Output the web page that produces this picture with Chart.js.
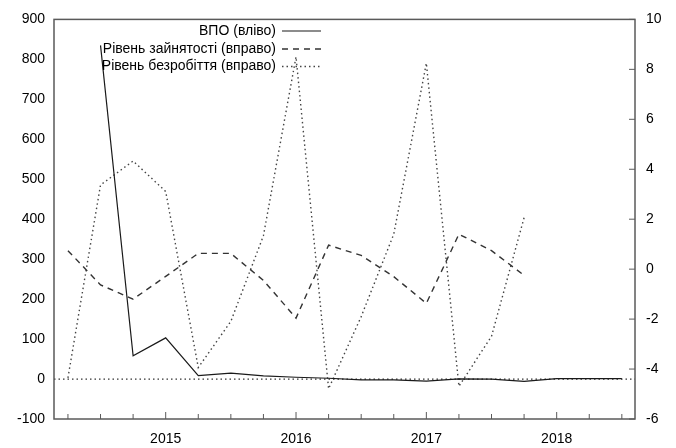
<!DOCTYPE html>
<html>
<head>
<meta charset="utf-8">
<script src="https://cdn.jsdelivr.net/npm/chart.js@4.4.0/dist/chart.umd.min.js"></script>
<style>
  html, body { margin: 0; padding: 0; background: #fff; }
  #wrap { width: 676px; height: 448px; }
</style>
</head>
<body>
<div id="wrap"><canvas id="chart" width="676" height="448"></canvas></div>
<script>
// quarterly periods, 2014 Q2 .. 2018 Q3
const quarters = ['2014 Q2', '2014 Q3', '2014 Q4',
    '2015 Q1', '2015 Q2', '2015 Q3', '2015 Q4',
    '2016 Q1', '2016 Q2', '2016 Q3', '2016 Q4',
    '2017 Q1', '2017 Q2', '2017 Q3', '2017 Q4',
    '2018 Q1', '2018 Q2', '2018 Q3'];

// ВПО (left axis)
const idpValues = [null, 835, 58, 103, 8.6, 15, 8, 4.5, 2, -2, -2, -5, 0.5, 0, -6, 1, 1, 1];
// Рівень зайнятості (right axis)
const employmentValues = [0.74, -0.63, -1.2, -0.29, 0.63, 0.63, -0.45, -1.96, 0.96, 0.55, -0.3, -1.37, 1.4, 0.74, -0.25, null, null, null];
// Рівень безробіття (right axis)
const unemploymentValues = [-4.35, 3.37, 4.33, 3.11, -3.94, -2.09, 1.34, 8.5, -4.79, -1.9, 1.4, 8.25, -4.69, -2.69, 2.06, null, null, null];

const leftTicks = [-100, 0, 100, 200, 300, 400, 500, 600, 700, 800, 900];
const rightTicks = [-6, -4, -2, 0, 2, 4, 6, 8, 10];
const yearLabels = [2015, 2016, 2017, 2018];

const seriesLabels = ['ВПО (вліво)', 'Рівень зайнятості (вправо)', 'Рівень безробіття (вправо)'];

const FONT = '"Liberation Sans", Arial, sans-serif';
const FRAME = '#5a5a5a';

// quarter label -> fractional year (Q1 sits on the year tick)
const quarterPos = quarters.map(q => {
    const [y, n] = q.split(' Q');
    return Number(y) + (Number(n) - 1) / 4;
});
const toPoints = (values) => quarterPos.map((x, i) => ({ x, y: values[i] }));

const gnuplotLook = {
    id: 'gnuplotLook',
    beforeDatasetsDraw(chart) {
        // dotted zero axis of the left scale
        const { ctx, chartArea } = chart;
        const y0 = chart.scales.yLeft.getPixelForValue(0);
        ctx.save();
        ctx.strokeStyle = '#333';
        ctx.lineWidth = 1.3;
        ctx.setLineDash([1.5, 3]);
        ctx.beginPath();
        ctx.moveTo(chartArea.left, y0);
        ctx.lineTo(chartArea.right, y0);
        ctx.stroke();
        ctx.restore();
    },
    afterDraw(chart) {
        const { ctx, chartArea } = chart;
        const x = chart.scales.x;
        const yR = chart.scales.yRight;
        ctx.save();
        // frame
        ctx.strokeStyle = FRAME;
        ctx.lineWidth = 1.5;
        ctx.setLineDash([]);
        ctx.strokeRect(chartArea.left, chartArea.top, chartArea.right - chartArea.left, chartArea.bottom - chartArea.top);
        // inward ticks: bottom (quarters) and right axis
        ctx.lineWidth = 1;
        ctx.beginPath();
        x.ticks.forEach(t => {
            const px = x.getPixelForValue(t.value);
            const len = Number.isInteger(t.value) ? 7 : 5;
            ctx.moveTo(px, chartArea.bottom);
            ctx.lineTo(px, chartArea.bottom - len);
        });
        yR.ticks.forEach(t => {
            const py = yR.getPixelForValue(t.value);
            ctx.moveTo(chartArea.right, py);
            ctx.lineTo(chartArea.right - 6, py);
        });
        ctx.stroke();

        // key, top right of the text column like gnuplot
        const textRight = 276, sampleL = 282, sampleR = 321;
        const rows = [31, 49, 66.5];
        ctx.font = '14px ' + FONT;
        ctx.fillStyle = '#000';
        ctx.textAlign = 'right';
        ctx.textBaseline = 'middle';
        chart.data.datasets.forEach((ds, i) => {
            ctx.fillText(ds.label, textRight, rows[i]);
            ctx.strokeStyle = ds.borderColor;
            ctx.lineWidth = ds.borderWidth;
            ctx.setLineDash(ds.borderDash || []);
            ctx.beginPath();
            ctx.moveTo(sampleL, rows[i]);
            ctx.lineTo(sampleR, rows[i]);
            ctx.stroke();
        });
        ctx.restore();
    }
};

new Chart(document.getElementById('chart').getContext('2d'), {
    type: 'line',
    data: {
        datasets: [
            {
                label: seriesLabels[0],
                data: toPoints(idpValues),
                yAxisID: 'yLeft',
                borderColor: '#1a1a1a',
                borderWidth: 1.2,
                borderDash: [],
                pointRadius: 0,
                tension: 0
            },
            {
                label: seriesLabels[1],
                data: toPoints(employmentValues),
                yAxisID: 'yRight',
                borderColor: '#333',
                borderWidth: 1.4,
                borderDash: [6, 5],
                pointRadius: 0,
                tension: 0
            },
            {
                label: seriesLabels[2],
                data: toPoints(unemploymentValues),
                yAxisID: 'yRight',
                borderColor: '#444',
                borderWidth: 1.4,
                borderDash: [1.5, 3],
                pointRadius: 0,
                tension: 0
            }
        ]
    },
    options: {
        responsive: false,
        animation: false,
        layout: { padding: { top: 14, left: 0, right: 0, bottom: 0 } },
        plugins: { legend: { display: false }, tooltip: { enabled: false } },
        scales: {
            x: {
                type: 'linear',
                min: 2014.143,
                max: 2018.601,
                afterBuildTicks: (scale) => { scale.ticks = quarterPos.map(v => ({ value: v })); },
                afterFit: (scale) => { scale.height = 29; },
                grid: { display: false, drawTicks: false },
                border: { display: false },
                ticks: {
                    padding: 12,
                    color: '#000',
                    font: { family: FONT, size: 14 },
                    maxRotation: 0,
                    autoSkip: false,
                    callback: (v) => yearLabels.includes(v) ? String(v) : ''
                }
            },
            yLeft: {
                type: 'linear',
                position: 'left',
                min: -100,
                max: 900,
                afterBuildTicks: (scale) => { scale.ticks = leftTicks.map(v => ({ value: v })); },
                afterFit: (scale) => { scale.width = 54; },
                grid: { display: false, drawTicks: false },
                border: { display: false },
                ticks: { padding: 9, color: '#000', font: { family: FONT, size: 14 } }
            },
            yRight: {
                type: 'linear',
                position: 'right',
                min: -6,
                max: 10,
                afterBuildTicks: (scale) => { scale.ticks = rightTicks.map(v => ({ value: v })); },
                afterFit: (scale) => { scale.width = 41; },
                grid: { display: false, drawTicks: false },
                border: { display: false },
                ticks: { padding: 11, color: '#000', font: { family: FONT, size: 14 } }
            }
        }
    },
    plugins: [gnuplotLook]
});
</script>
</body>
</html>
